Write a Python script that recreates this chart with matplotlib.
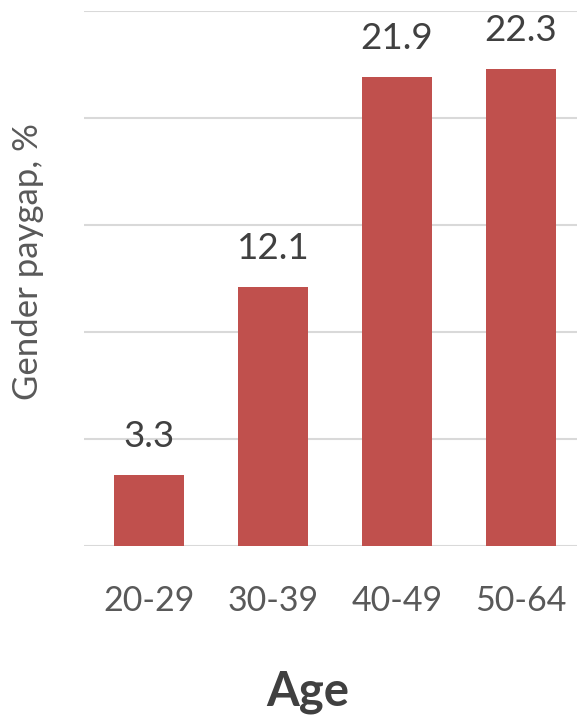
import matplotlib
matplotlib.use('Agg')
import matplotlib.pyplot as plt

plt.rcParams['font.family'] = ['Lato', 'DejaVu Sans']

age_groups = ['20-29', '30-39', '40-49', '50-64']
pay_gap = [3.3, 12.1, 21.9, 22.3]

bar_color = '#C0504D'
grid_color = '#D9D9D9'
text_color = '#595959'

fig = plt.figure(figsize=(5.77, 7.15), dpi=100)
ax = fig.add_axes([84 / 577, 1 - 546 / 715, 493 / 577, 535 / 715])

x = list(range(len(age_groups)))
bars = ax.bar(x, pay_gap, width=0.565, color=bar_color, zorder=3)

for rect, v in zip(bars, pay_gap):
    ax.annotate(f'{v:.1f}', (rect.get_x() + rect.get_width() / 2, v),
                xytext=(0, 16), textcoords='offset points',
                ha='center', va='bottom', fontsize=26.5, color='#404040')

ax.set_xlim(-0.524, 3.452)
ax.set_ylim(0, 25)
ax.set_yticks([0, 5, 10, 15, 20, 25])
ax.set_yticklabels([])
ax.yaxis.grid(True, color=grid_color, linewidth=1.5, zorder=0)
ax.tick_params(axis='y', length=0)
ax.set_xticks(x)
ax.set_xticklabels(age_groups, fontsize=24.5, color=text_color)
ax.tick_params(axis='x', length=0, pad=28)
for s in ax.spines.values():
    s.set_visible(False)

fig.text(28 / 577, 1 - 262 / 715, 'Gender paygap, %', rotation=90,
         ha='center', va='center', fontsize=25, color=text_color)
fig.text(308 / 577, 1 - 692 / 715, 'Age', ha='center', va='center',
         fontsize=34, fontweight='bold', color='#404040')

fig.savefig('out.png', dpi=100)
